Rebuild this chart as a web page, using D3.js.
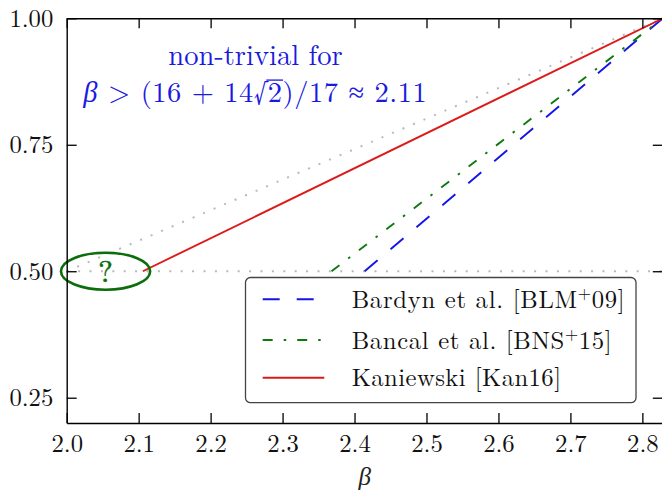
<!DOCTYPE html>
<html><head><meta charset="utf-8">
<script src="https://cdn.jsdelivr.net/npm/d3@7"></script>
<style>
html,body{margin:0;padding:0;background:#fff;}
svg{display:block;}
</style></head><body>
<svg id="chart" width="662" height="492"></svg>
<script>
// ---- data ----
const xTicks = [2.0, 2.1, 2.2, 2.3, 2.4, 2.5, 2.6, 2.7, 2.8];
const xTickLabels = ["2.0", "2.1", "2.2", "2.3", "2.4", "2.5", "2.6", "2.7", "2.8"];
const yTicks = [0.25, 0.50, 0.75, 1.00];
const yTickLabels = ["0.25", "0.50", "0.75", "1.00"];
const xDomain = [2.0, 2.8284];
const yDomain = [0.2, 1.0];

const trivialBeta = [2.0, 2.8284];
const trivialValue = [0.5, 1.0];
const halfBeta = [2.0, 2.8284];
const halfValue = [0.5, 0.5];
const bardynBeta = [2.414, 2.8284];
const bardynValue = [0.5, 1.0];
const bancalBeta = [2.368, 2.8284];
const bancalValue = [0.5, 1.0];
const kaniewskiBeta = [2.1058, 2.8284];
const kaniewskiValue = [0.5, 1.0];

const seriesNames = ["Bardyn et al. [BLM", "Bancal et al. [BNS", "Kaniewski [Kan16]"];
const seriesSup = ["+", "+", ""];
const seriesTail = ["09]", "15]", ""];
const seriesColors = ["#1414e6", "#0d7a0d", "#dd1a1a"];
const seriesDash = ["17 17", "10 11 2.5 11", null];

const unknownCenter = [2.054, 0.5];
const unknownRadius = [0.062, 0.0365];

const xLabel = "β";

// ---- layout ----
const svg = d3.select("#chart");
const mLeft = 66.7, mRight = 662.8, mTop = 18.3, mBottom = 423;
const x = d3.scaleLinear().domain(xDomain).range([mLeft, mRight]);
const y = d3.scaleLinear().domain(yDomain).range([mBottom, mTop]);
const serif = "'Latin Modern Roman', 'Liberation Serif', serif";
const greek = "'Liberation Serif', serif";

// reference lines (dotted gray)
const lineGen = d3.line().x(d => x(d[0])).y(d => y(d[1]));
const zip = (a, b) => a.map((v, i) => [v, b[i]]);
[[trivialBeta, trivialValue], [halfBeta, halfValue]].forEach(([bx, by]) => {
  svg.append("path").attr("d", lineGen(zip(bx, by)))
    .attr("fill", "none").attr("stroke", "#b9b9b9").attr("stroke-width", 2)
    .attr("stroke-dasharray", "2 9.4");
});

// series
const series = [[bardynBeta, bardynValue], [bancalBeta, bancalValue], [kaniewskiBeta, kaniewskiValue]];
series.forEach(([bx, by], i) => {
  const p = svg.append("path").attr("d", lineGen(zip(bx, by)))
    .attr("fill", "none").attr("stroke", seriesColors[i]).attr("stroke-width", 1.9);
  if (seriesDash[i]) p.attr("stroke-dasharray", seriesDash[i]);
});

// ellipse with question mark
svg.append("ellipse")
  .attr("cx", x(unknownCenter[0])).attr("cy", y(unknownCenter[1]))
  .attr("rx", x(unknownCenter[0] + unknownRadius[0]) - x(unknownCenter[0]))
  .attr("ry", y(unknownCenter[1]) - y(unknownCenter[1] + unknownRadius[1]))
  .attr("fill", "none").attr("stroke", "#0b6e0b").attr("stroke-width", 2.6);
svg.append("text").attr("x", x(unknownCenter[0])).attr("y", y(unknownCenter[1]) + 10.5)
  .attr("text-anchor", "middle").style("font-family", serif).style("font-size", "31px")
  .attr("fill", "#0b6e0b").attr("stroke", "#0b6e0b").attr("stroke-width", 0.5).text("?");

// axes
const fmtX = d => xTickLabels[xTicks.indexOf(d)];
const fmtY = d => yTickLabels[yTicks.indexOf(d)];
const gx = svg.append("g").attr("transform", `translate(0,${mBottom})`)
  .call(d3.axisBottom(x).tickValues(xTicks).tickFormat(fmtX).tickSizeInner(-10).tickSizeOuter(0).tickPadding(11.5));
const gy = svg.append("g").attr("transform", `translate(${mLeft},0)`)
  .call(d3.axisLeft(y).tickValues(yTicks).tickFormat(fmtY).tickSizeInner(-10).tickSizeOuter(0).tickPadding(13.4));
const gt = svg.append("g").attr("transform", `translate(0,${mTop})`)
  .call(d3.axisTop(x).tickValues(xTicks).tickFormat("").tickSizeInner(-10).tickSizeOuter(0));
const gr = svg.append("g").attr("transform", `translate(${mRight},0)`)
  .call(d3.axisRight(y).tickValues(yTicks).tickFormat("").tickSizeInner(-10).tickSizeOuter(0));
[gx, gy, gt, gr].forEach(g => {
  g.attr("font-family", null).attr("font-size", null);
  g.style("font-family", serif).style("font-size", "24.7px");
  g.selectAll("path.domain").attr("stroke", "#000").attr("stroke-width", 1.4);
  g.selectAll(".tick line").attr("stroke", "#000").attr("stroke-width", 1.3);
  g.selectAll(".tick text").attr("fill", "#111");
});

// x axis label
svg.append("text").attr("x", (mLeft + mRight) / 2).attr("y", 485)
  .attr("text-anchor", "middle").style("font-family", greek).style("font-style", "italic")
  .style("font-size", "25px").attr("fill", "#222").text(xLabel);

// annotation
const blue = "#1a1ade";
svg.append("text").attr("x", 168.3).attr("y", 65)
  .style("font-family", serif).style("font-size", "28.5px").attr("fill", blue)
  .attr("textLength", 174.4).attr("lengthAdjust", "spacing")
  .text("non-trivial for");
const ann2 = svg.append("text").attr("x", 83.3).attr("y", 101.7)
  .style("font-family", serif).style("font-size", "28.5px").attr("fill", blue)
  .attr("textLength", 343.4).attr("lengthAdjust", "spacing");
const parts = [["β", true], [" > (16 + 14", false], ["√", false], ["2", false], [")/17 ≈ 2.11", false]];
parts.forEach(([t, it]) => {
  const s = ann2.append("tspan").text(t);
  if (it) s.style("font-style", "italic").style("font-family", greek);
});
{
  const node = ann2.node();
  const iRoot = parts[0][0].length + parts[1][0].length;
  const x0 = node.getEndPositionOfChar(iRoot).x - 1;
  const x1 = node.getEndPositionOfChar(iRoot + 1).x + 1;
  svg.append("line").attr("x1", x0).attr("x2", x1)
    .attr("y1", 101.7 - 21.6).attr("y2", 101.7 - 21.6)
    .attr("stroke", blue).attr("stroke-width", 1.3);
}

// legend
const lg = svg.append("g");
lg.append("rect").attr("x", 245.5).attr("y", 277.5).attr("width", 390.5).attr("height", 125.2)
  .attr("rx", 5).attr("fill", "#fff").attr("fill-opacity", 0.85)
  .attr("stroke", "#444").attr("stroke-width", 1.3);
const rowY = [299.3, 340, 377.7];
const textLen = [273, 260, 209.3];
seriesNames.forEach((name, i) => {
  const ln = lg.append("line").attr("x1", 262.7).attr("x2", 324.3)
    .attr("y1", rowY[i]).attr("y2", rowY[i])
    .attr("stroke", seriesColors[i]).attr("stroke-width", 1.9);
  if (seriesDash[i]) ln.attr("stroke-dasharray", seriesDash[i]);
  const t = lg.append("text").attr("x", 351.7).attr("y", rowY[i] + 8.6)
    .style("font-family", serif).style("font-size", "24.7px").attr("fill", "#111")
    .attr("textLength", textLen[i]).attr("lengthAdjust", "spacing");
  t.append("tspan").text(name);
  if (seriesSup[i]) {
    t.append("tspan").attr("dy", -9).style("font-size", "17px").text(seriesSup[i]);
    t.append("tspan").attr("dy", 9).text(seriesTail[i]);
  }
});
</script>
</body></html>
